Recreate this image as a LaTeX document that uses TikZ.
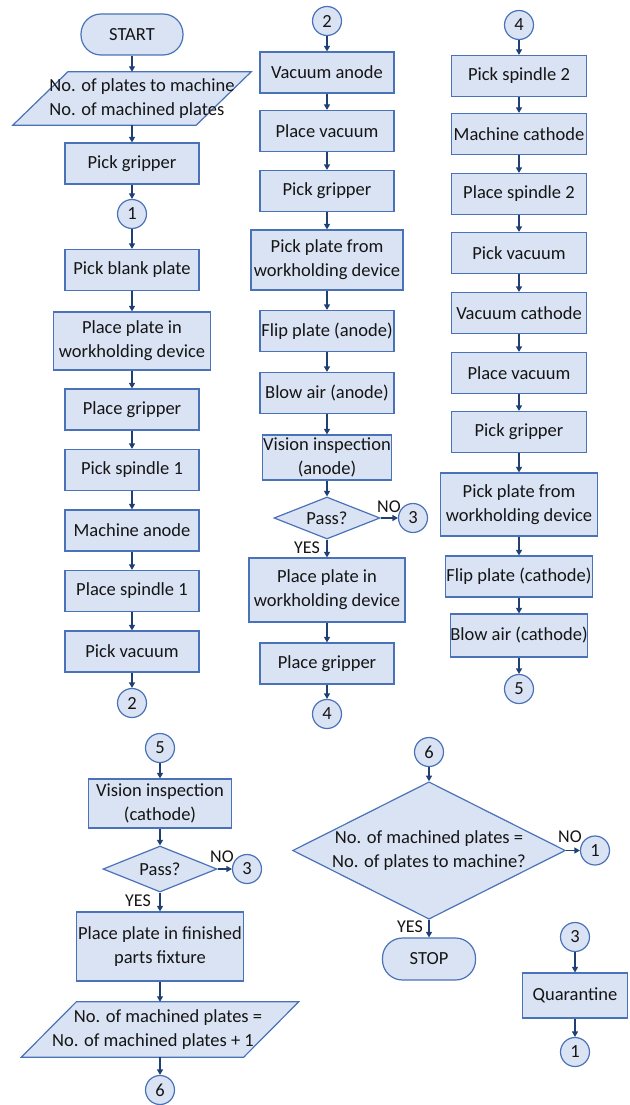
\documentclass[tikz,border=0pt]{standalone}
\usepackage{fontspec}
\setmainfont{Carlito}
\usetikzlibrary{shapes.geometric,arrows.meta,backgrounds,calc}
\definecolor{boxfill}{HTML}{DAE3F3}
\definecolor{boxline}{HTML}{4A72B8}
\definecolor{arrowcol}{HTML}{203F73}
\definecolor{txt}{HTML}{151515}
\begin{document}
\begin{tikzpicture}[x=1pt,y=-1pt,
  base/.style={draw=boxline, fill=boxfill, line width=1.2pt, text=txt,
    font=\fontsize{18.5}{24}\selectfont, align=center, inner sep=1pt},
  proc/.style={base, rectangle, minimum width=134pt, minimum height=41pt},
  term/.style={base, rectangle, rounded corners=20pt, minimum height=41pt},
  conn/.style={base, circle, minimum size=29pt, inner sep=0pt},
  decis/.style={base, diamond, inner sep=0pt},
  iobox/.style={rectangle, inner sep=0pt},
  iotext/.style={text=txt, font=\fontsize{18.5}{24}\selectfont, inner sep=0pt},
  flow/.style={draw=arrowcol, line width=1.2pt, -{Triangle[width=6pt,length=5.5pt]}},
  lbl/.style={text=txt, font=\fontsize{18}{20}\selectfont, inner sep=0pt}
]
\useasboundingbox (0,0) rectangle (629,1105);

% ---------- column 1 ----------
\node[term, minimum width=102pt] (start) at (132,34.5) {START};
\node[iobox, minimum width=183pt, minimum height=53pt] (in1) at (132,98.5) {};
\node[iotext, align=left] (in1t) at (142,98.5) {No. of plates to machine\\No. of machined plates};
\node[proc] (pg1) at (132,163.5) {Pick gripper};
\node[conn] (c1a) at (132,214) {1};
\node[proc] (pbp) at (132,270) {Pick blank plate};
\node[proc, minimum width=157pt, minimum height=58pt] (ppw1) at (132,341) {Place plate in\\workholding device};
\node[proc] (plg1) at (132,409.5) {Place gripper};
\node[proc] (ps1) at (132,470) {Pick spindle 1};
\node[proc] (ma) at (132,530.5) {Machine anode};
\node[proc] (pls1) at (132,591) {Place spindle 1};
\node[proc] (pv1) at (132,651.5) {Pick vacuum};
\node[conn] (c2a) at (132,703) {2};

% ---------- column 2 ----------
\node[conn] (c2b) at (327,21) {2};
\node[proc] (va) at (327,72.5) {Vacuum anode};
\node[proc] (plv1) at (327,131) {Place vacuum};
\node[proc] (pg2) at (327,191) {Pick gripper};
\node[proc, minimum width=152pt, minimum height=60pt] (ppf1) at (327,260) {Pick plate from\\workholding device};
\node[proc] (fpa) at (327,331) {Flip plate (anode)};
\node[proc] (baa) at (327,393) {Blow air (anode)};
\node[proc, minimum width=127pt, minimum height=45pt] (via) at (327,457.5) {Vision inspection\\(anode)};
\node[decis, minimum width=106pt, minimum height=42pt, aspect=2.5] (pass1) at (327,518) {Pass?};
\node[conn] (c3a) at (413,518) {3};
\node[proc, minimum width=156pt, minimum height=64pt] (ppw2) at (327,590) {Place plate in\\workholding device};
\node[proc] (plg2) at (327,663.5) {Place gripper};
\node[conn] (c4a) at (327,714) {4};
\node[lbl] (no1) at (389,507) {NO};
\node[lbl] (yes1) at (307,548) {YES};

% ---------- column 3 ----------
\node[conn] (c4b) at (519,25) {4};
\node[proc, minimum width=135pt] (psp2) at (519,76) {Pick spindle 2};
\node[proc, minimum width=135pt] (mc) at (519,134) {Machine cathode};
\node[proc, minimum width=135pt] (pls2) at (519,194) {Place spindle 2};
\node[proc, minimum width=135pt] (pvac2) at (519,253) {Pick vacuum};
\node[proc, minimum width=135pt] (vc) at (519,313) {Vacuum cathode};
\node[proc, minimum width=135pt] (plv2) at (519,373) {Place vacuum};
\node[proc, minimum width=135pt] (pg3) at (519,432) {Pick gripper};
\node[proc, minimum width=157pt, minimum height=63pt] (ppf2) at (519,504.5) {Pick plate from\\workholding device};
\node[proc, minimum width=145pt] (fpc) at (519,576.5) {Flip plate (cathode)};
\node[proc, minimum width=135pt, minimum height=43pt, inner xsep=0pt] (bac) at (519,635.5) {Blow air (cathode)};
\node[conn] (c5a) at (519,689) {5};

% ---------- bottom left ----------
\node[conn] (c5b) at (160,748) {5};
\node[proc, minimum width=143pt, minimum height=49pt] (vic) at (160,803.5) {Vision inspection\\(cathode)};
\node[decis, minimum width=114pt, minimum height=46pt, aspect=2.5] (pass2) at (160,869) {Pass?};
\node[conn] (c3b) at (247,869) {3};
\node[proc, minimum width=167pt, minimum height=69pt] (ppff) at (160,946.5) {Place plate in finished\\parts fixture};
\node[iobox, minimum width=222pt, minimum height=55pt] (in2) at (160,1029.5) {};
\node[iotext, align=center] (in2t) at (160,1029.5)
  {\hspace*{16pt}No. of machined plates =\\No. of machined plates + 1\hspace*{14pt}};
\node[conn] (c6a) at (160,1090) {6};
\node[lbl] (no2) at (222,857) {NO};
\node[lbl] (yes2) at (138,901) {YES};

% ---------- bottom middle / right ----------
\node[conn] (c6b) at (429,752) {6};
\node[decis, minimum width=268pt, minimum height=135pt, aspect=1.985] (dq) at (429,850.5)
  {No. of machined plates =\\No. of plates to machine?};
\node[conn] (c1b) at (595,850.5) {1};
\node[term, minimum width=93pt, minimum height=42pt] (stop) at (429,959) {STOP};
\node[lbl] (no3) at (570,837) {NO};
\node[lbl] (yes3) at (410,927) {YES};

\node[conn] (c3c) at (575,937) {3};
\node[proc, minimum width=105pt, minimum height=45pt] (quar) at (575,995.5) {Quarantine};
\node[conn] (c1c) at (575,1052) {1};

% ---------- parallelogram outlines ----------
\begin{scope}[on background layer]
\draw[base] ($(in1.south west)+(-27.5,0)$) -- ($(in1.north west)+(27.5,0)$)
  -- ($(in1.north east)+(27.5,0)$) -- ($(in1.south east)+(-27.5,0)$) -- cycle;
\draw[base] ($(in2.south west)+(-27.5,0)$) -- ($(in2.north west)+(27.5,0)$)
  -- ($(in2.north east)+(27.5,0)$) -- ($(in2.south east)+(-27.5,0)$) -- cycle;
\end{scope}

% ---------- connectors ----------
\foreach \a/\b in {start/in1, in1/pg1, pg1/c1a, c1a/pbp, pbp/ppw1, ppw1/plg1,
  plg1/ps1, ps1/ma, ma/pls1, pls1/pv1, pv1/c2a,
  c2b/va, va/plv1, plv1/pg2, pg2/ppf1, ppf1/fpa, fpa/baa, baa/via, via/pass1,
  pass1/c3a, pass1/ppw2, ppw2/plg2, plg2/c4a,
  c4b/psp2, psp2/mc, mc/pls2, pls2/pvac2, pvac2/vc, vc/plv2, plv2/pg3,
  pg3/ppf2, ppf2/fpc, fpc/bac, bac/c5a,
  c5b/vic, vic/pass2, pass2/c3b, pass2/ppff, ppff/in2, in2/c6a,
  c6b/dq, dq/c1b, dq/stop, c3c/quar, quar/c1c}
  \draw[flow] (\a) -- (\b);
\end{tikzpicture}
\end{document}
